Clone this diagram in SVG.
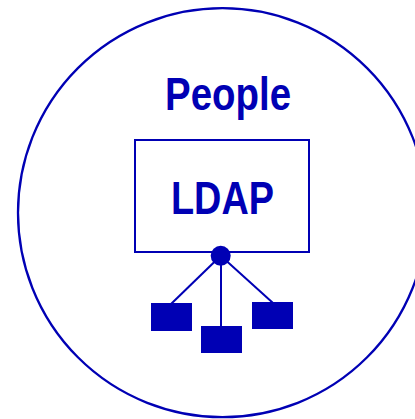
<svg xmlns="http://www.w3.org/2000/svg" width="415" height="419" viewBox="0 0 415 419">
<style>
.ln{stroke:#0000b4;stroke-width:2;fill:none}
.fl{fill:#0000b4}
.t{font-family:"Liberation Sans",Arial,sans-serif;font-weight:bold;font-size:46px;fill:#0000b4}
</style>
<rect width="415" height="419" fill="#fff"/>
<g id="people">
<circle class="ln" cx="222.5" cy="212.7" r="204.5" style="stroke-width:2.3"/>
<text class="t" x="165" y="109.5" textLength="126" lengthAdjust="spacingAndGlyphs">People</text>
</g>
<g id="connectors">
<line class="ln" x1="220.5" y1="256" x2="171" y2="304"/>
<line class="ln" x1="221" y1="256" x2="221" y2="327"/>
<line class="ln" x1="221" y1="256" x2="273" y2="303"/>
</g>
<g id="ldap">
<rect class="ln" x="135" y="140" width="174" height="112"/>
<text class="t" x="171" y="213.5" textLength="103" lengthAdjust="spacingAndGlyphs">LDAP</text>
<circle class="fl" cx="220.7" cy="255.7" r="10"/>
</g>
<g id="leaf1"><rect class="fl" x="151" y="303" width="41" height="28"/></g>
<g id="leaf2"><rect class="fl" x="201" y="326" width="41" height="27"/></g>
<g id="leaf3"><rect class="fl" x="252" y="302" width="41" height="27"/></g>
</svg>
